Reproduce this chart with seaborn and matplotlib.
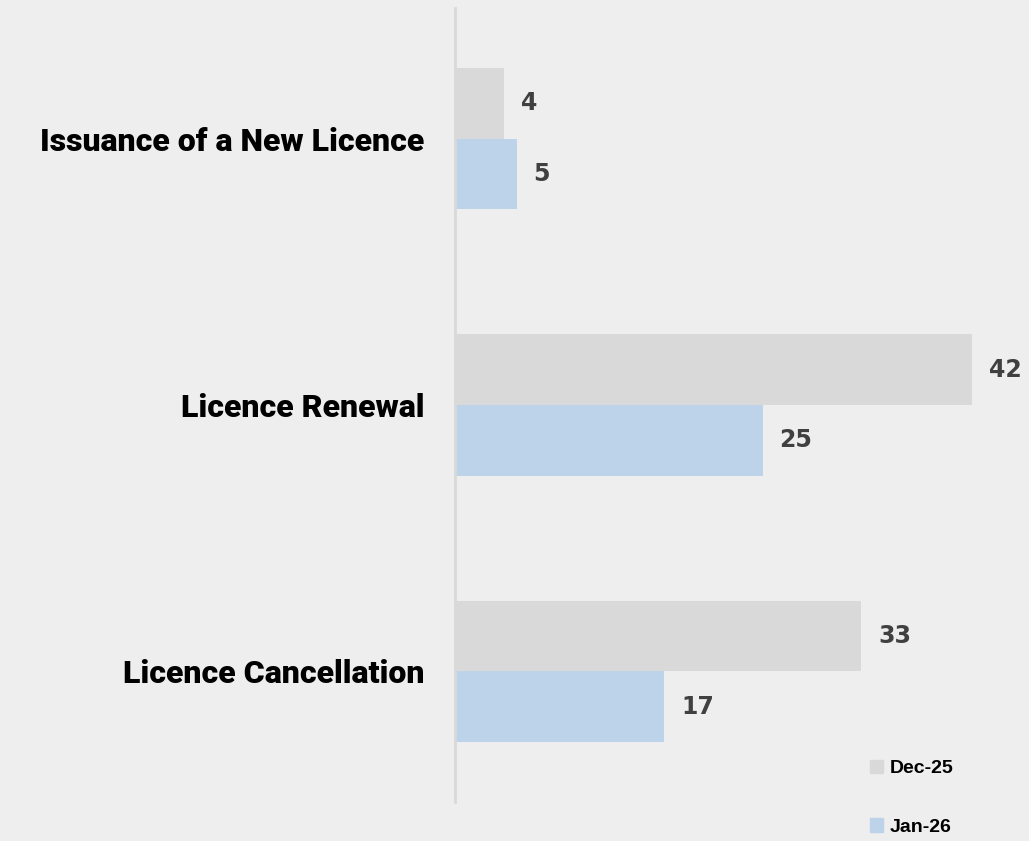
import matplotlib
matplotlib.use('Agg')
import matplotlib.pyplot as plt
import matplotlib.patches as mpatches
import pandas as pd
import seaborn as sns

CATEGORIAS = ['Issuance of a New Licence', 'Licence Renewal', 'Licence Cancellation']
PERIODOS = ['Dec-25', 'Jan-26']
VALORES_DEC25 = [4, 42, 33]
VALORES_JAN26 = [5, 25, 17]

CORES = {'Dec-25': '#D9D9D9', 'Jan-26': '#BDD3E9'}
FUNDO = '#EEEEEE'
TEXTO_VALOR = '#404040'

df = pd.DataFrame({
    'categoria': CATEGORIAS * 2,
    'periodo': [PERIODOS[0]] * 3 + [PERIODOS[1]] * 3,
    'valor': VALORES_DEC25 + VALORES_JAN26,
})

sns.set_theme(style='white')
plt.rcParams['font.family'] = ['Liberation Sans', 'DejaVu Sans']

fig = plt.figure(figsize=(10.29, 8.41), dpi=100, facecolor=FUNDO)
ax = fig.add_axes([455 / 1029, 1 - 802 / 841, 1 - 455 / 1029, 794 / 841])
ax.set_facecolor(FUNDO)

sns.barplot(data=df, y='categoria', x='valor', hue='periodo', order=CATEGORIAS,
            hue_order=PERIODOS, palette=CORES, orient='h', width=0.53,
            saturation=1, linewidth=0, ax=ax, legend=False)

for cont in ax.containers:
    ax.bar_label(cont, fmt='%d', padding=12, fontsize=17, fontweight='bold',
                 color=TEXTO_VALOR, family=['DejaVu Sans'])

ax.set_xlim(0, (1029 - 455) / (517 / 42))
ax.set_ylim(2.49, -0.49)
ax.set_xlabel('')
ax.set_ylabel('')
ax.set_xticks([])
ax.tick_params(axis='y', length=0, pad=22)
for lbl in ax.get_yticklabels():
    lbl.set_fontsize(23)
    lbl.set_fontweight('black')
    lbl.set_family(['Roboto', 'DejaVu Sans'])
    lbl.set_color('black')

for lado in ['top', 'right', 'bottom']:
    ax.spines[lado].set_visible(False)
ax.spines['left'].set_color('#D9D9D9')
ax.spines['left'].set_linewidth(2)

handles = [mpatches.Patch(color=CORES[p], label=p) for p in PERIODOS]
leg = fig.legend(handles=handles, loc='upper left', bbox_to_anchor=(852 / 1029, 1 - 742 / 841),
                 frameon=False, handlelength=0.7, handleheight=0.7, handletextpad=0.35,
                 labelspacing=2.1, prop={'weight': 'bold', 'size': 14})
for t in leg.get_texts():
    t.set_color('black')

fig.savefig('out.png', dpi=100, facecolor=FUNDO)
